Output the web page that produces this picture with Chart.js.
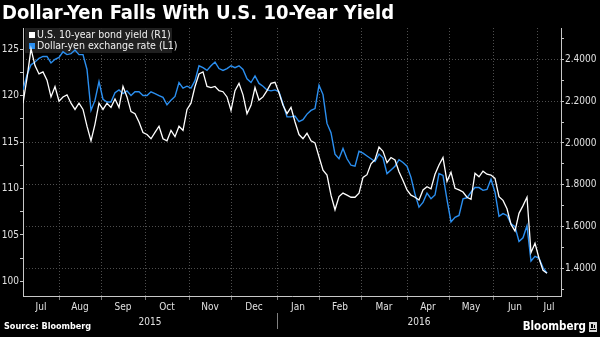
<!DOCTYPE html>
<html>
<head>
<meta charset="utf-8">
<script src="https://cdn.jsdelivr.net/npm/chart.js@4.4.0/dist/chart.umd.min.js"></script>
<style>
  html, body { margin: 0; padding: 0; background: #000; }
  #wrap { position: relative; width: 600px; height: 337px; }
</style>
</head>
<body>
<div id="wrap"><canvas id="chart"></canvas></div>
<script>
const FONT = "'DejaVu Sans Condensed', 'DejaVu Sans', sans-serif";
const GRID = '#4e4e4e';
const AXIS = '#c8c8c8';
const BLUE = '#2b8ff0';

// Trading-day series, one value every other trading day from 8 Jul 2015
const firstTradingDay = [2015, 6, 8];
const pointStep = 2;
const axisDays = 269;

// USD/JPY (left axis)
const yenRate = [
  120.6, 122.2, 123.3, 123.6, 124.0, 124.2, 124.2, 123.5, 123.9, 124.1,
  124.7, 124.4, 124.5, 124.9, 124.4, 124.4, 122.8, 118.4, 119.5, 121.5,
  119.6, 119.3, 119.3, 120.3, 120.6, 120.2, 120.5, 120.0, 120.4, 120.4,
  120.0, 120.0, 120.4, 120.2, 120.0, 119.8, 119.0, 119.5, 119.9, 121.4,
  120.8, 121.0, 120.8, 121.6, 123.2, 123.0, 122.7, 123.2, 123.6, 122.9,
  122.7, 122.9, 123.2, 123.0, 123.2, 122.8, 121.8, 121.4, 122.1, 121.3,
  121.0, 120.6, 120.5, 120.6, 120.4, 119.1, 117.7, 117.7, 117.8, 117.2,
  117.4, 118.0, 118.4, 118.6, 121.1, 120.1, 117.0, 116.0, 113.7, 113.2,
  114.3, 113.2, 112.5, 112.4, 114.0, 113.8, 113.5, 113.2, 112.9, 113.7,
  113.3, 111.6, 112.0, 112.4, 113.1, 112.8, 112.4, 111.2, 109.4, 108.0,
  108.5, 109.5, 108.9, 109.3, 111.6, 111.4, 108.8, 106.4, 106.9, 107.1,
  108.9, 109.0, 109.6, 110.1, 110.1, 109.8, 109.9, 111.0, 109.6, 107.0,
  107.3, 107.1, 106.2, 105.9, 104.3, 104.7, 106.0, 102.2, 102.7, 102.5,
  101.5, 100.9
];

// US 10-year Treasury yield, % (right axis)
const bondYield = [
  2.19, 2.31, 2.45, 2.37, 2.33, 2.34, 2.30, 2.22, 2.27, 2.20,
  2.22, 2.23, 2.19, 2.16, 2.19, 2.16, 2.08, 2.01, 2.09, 2.19,
  2.16, 2.19, 2.17, 2.21, 2.17, 2.27, 2.22, 2.15, 2.14, 2.10,
  2.05, 2.04, 2.02, 2.05, 2.08, 2.02, 2.01, 2.06, 2.03, 2.08,
  2.06, 2.16, 2.19, 2.27, 2.33, 2.34, 2.27, 2.265, 2.27, 2.25,
  2.245, 2.22, 2.155, 2.25, 2.285, 2.23, 2.14, 2.18, 2.265, 2.205,
  2.22, 2.25, 2.285, 2.29, 2.24, 2.18, 2.14, 2.17, 2.10, 2.04,
  2.02, 2.046, 2.01, 2.00, 1.934, 1.87, 1.846, 1.75, 1.68, 1.743,
  1.76, 1.75, 1.74, 1.74, 1.759, 1.835, 1.848, 1.90, 1.92, 1.98,
  1.96, 1.905, 1.93, 1.918, 1.862, 1.82, 1.775, 1.75, 1.74, 1.727,
  1.775, 1.79, 1.78, 1.85, 1.894, 1.93, 1.816, 1.86, 1.783, 1.775,
  1.765, 1.74, 1.73, 1.855, 1.838, 1.865, 1.85, 1.846, 1.83, 1.743,
  1.725, 1.685, 1.61, 1.578, 1.663, 1.70, 1.74, 1.475, 1.52, 1.448,
  1.39, 1.376
];

const yenTicks = [100, 102.5, 105, 107.5, 110, 112.5, 115, 117.5, 120, 122.5, 125];
const yieldTicks = [1.3, 1.4, 1.5, 1.6, 1.7, 1.8, 1.9, 2.0, 2.1, 2.2, 2.3, 2.4, 2.5];
const monthNames = ['Jan', 'Feb', 'Mar', 'Apr', 'May', 'Jun', 'Jul', 'Aug', 'Sep', 'Oct', 'Nov', 'Dec'];

// weekday calendar used as the x scale (index = trading day)
function tradingCalendar(n) {
  const out = [];
  const d = new Date(Date.UTC(...firstTradingDay));
  while (out.length <= n) {
    const wd = d.getUTCDay();
    if (wd !== 0 && wd !== 6) out.push({ m: d.getUTCMonth(), y: d.getUTCFullYear() });
    d.setUTCDate(d.getUTCDate() + 1);
  }
  return out;
}
const cal = tradingCalendar(axisDays);
const monthStarts = [];
cal.forEach((c, i) => { if (i > 0 && c.m !== cal[i - 1].m) monthStarts.push(i); });

const edges = [0, ...monthStarts, axisDays];
const monthMids = new Map();
const years = [];
for (let i = 0; i < edges.length - 1; i++) {
  const c = cal[edges[i]];
  monthMids.set((edges[i] + edges[i + 1]) / 2, monthNames[c.m]);
  const last = years[years.length - 1];
  if (!last || last.y !== c.y) years.push({ y: c.y, from: edges[i], to: edges[i + 1] });
  else last.to = edges[i + 1];
}

const toPoints = arr => arr.map((v, i) => ({ x: i * pointStep, y: v }));

const decor = {
  id: 'decor',
  beforeDatasetsDraw(chart) {
    const { ctx, chartArea } = chart;
    // legend box
    ctx.save();
    ctx.fillStyle = 'rgba(34,34,34,0.92)';
    ctx.fillRect(chartArea.left + 2, chartArea.top, 147, 25);
    ctx.font = `10.5px ${FONT}`;
    ctx.textBaseline = 'middle';
    chart.data.datasets.forEach((ds, i) => {
      const y = chartArea.top + 7 + i * 11;
      ctx.fillStyle = ds.borderColor;
      ctx.fillRect(chartArea.left + 6, y - 3, 6, 6);
      ctx.fillStyle = '#f0f0f0';
      ctx.fillText(ds.label, chartArea.left + 14, y);
    });
    ctx.restore();
  },
  afterDraw(chart) {
    const { ctx, chartArea } = chart;
    const x = chart.scales.x;
    ctx.save();
    ctx.fillStyle = '#fff';
    ctx.font = `bold 20px ${FONT}`;
    ctx.textBaseline = 'alphabetic';
    ctx.fillText('Dollar-Yen Falls With U.S. 10-Year Yield', 2, 19);

    // year row under the month labels
    ctx.font = `10px ${FONT}`;
    ctx.fillStyle = '#e0e0e0';
    ctx.textAlign = 'center';
    ctx.textBaseline = 'middle';
    years.forEach(yr => {
      ctx.fillText(String(yr.y), (x.getPixelForValue(yr.from) + x.getPixelForValue(yr.to)) / 2, 322);
      if (yr.from > 0) {
        const px = Math.round(x.getPixelForValue(yr.from)) + 0.5;
        ctx.strokeStyle = '#808080';
        ctx.lineWidth = 1;
        ctx.beginPath();
        ctx.moveTo(px, chartArea.bottom + 17);
        ctx.lineTo(px, chartArea.bottom + 33);
        ctx.stroke();
      }
    });

    ctx.textAlign = 'left';
    ctx.font = `bold 9px ${FONT}`;
    ctx.fillStyle = '#fff';
    ctx.fillText('Source: Bloomberg', 4, 327);

    ctx.textAlign = 'right';
    ctx.font = `bold 11.5px ${FONT}`;
    ctx.fillText('Bloomberg', 586, 327);
    ctx.fillStyle = '#d8d8d8';
    ctx.fillRect(589, 322, 8, 10);
    ctx.fillStyle = '#000';
    ctx.fillRect(591, 324, 2, 4);
    ctx.fillRect(594, 325, 1, 3);
    ctx.fillRect(590, 329, 6, 1);
    ctx.restore();
  }
};

new Chart(document.getElementById('chart'), {
  type: 'line',
  data: {
    datasets: [
      {
        label: 'U.S. 10-year bond yield (R1)',
        data: toPoints(bondYield),
        yAxisID: 'yld',
        borderColor: '#ffffff',
        borderWidth: 1.3,
        pointRadius: 0,
        tension: 0
      },
      {
        label: 'Dollar-yen exchange rate (L1)',
        data: toPoints(yenRate),
        yAxisID: 'yen',
        borderColor: BLUE,
        borderWidth: 1.4,
        pointRadius: 0,
        tension: 0
      }
    ]
  },
  options: {
    responsive: true,
    maintainAspectRatio: false,
    animation: false,
    layout: { padding: { top: 28, left: 0, right: 0, bottom: 0 } },
    plugins: {
      legend: { display: false },
      tooltip: { enabled: false }
    },
    scales: {
      x: {
        type: 'linear',
        min: 0,
        max: axisDays,
        afterBuildTicks(scale) {
          scale.ticks = [...monthStarts, ...monthMids.keys()]
            .sort((a, b) => a - b)
            .map(v => ({ value: v }));
        },
        afterFit(scale) { scale.height = 41; },
        ticks: {
          autoSkip: false,
          maxRotation: 0,
          padding: 1,
          color: '#e0e0e0',
          font: { family: FONT, size: 10 },
          callback: v => monthMids.get(v) || ''
        },
        grid: {
          color: c => (c.tick && monthStarts.includes(c.tick.value)) ? GRID : 'transparent',
          tickColor: c => (c.tick && monthStarts.includes(c.tick.value)) ? '#777' : 'transparent',
          tickLength: 4,
          lineWidth: 1
        },
        border: { display: true, color: AXIS, width: 1, dash: [1, 2] }
      },
      yen: {
        position: 'left',
        min: 98.44,
        max: 127.26,
        afterBuildTicks(scale) { scale.ticks = yenTicks.map(v => ({ value: v })); },
        afterFit(scale) { scale.width = 23; },
        ticks: {
          autoSkip: false,
          padding: 1,
          color: '#e0e0e0',
          font: { family: FONT, size: 10 },
          callback: v => (v % 5 === 0 ? String(v) : '')
        },
        grid: { drawOnChartArea: false, tickColor: AXIS, tickLength: 3 },
        border: { display: true, color: AXIS, width: 1 }
      },
      yld: {
        position: 'right',
        min: 1.2675,
        max: 2.5498,
        afterBuildTicks(scale) { scale.ticks = yieldTicks.map(v => ({ value: v })); },
        afterFit(scale) { scale.width = 39; },
        ticks: {
          autoSkip: false,
          padding: 1,
          color: '#e0e0e0',
          font: { family: FONT, size: 10 },
          callback: v => (Math.round(v * 10) % 2 === 0 ? v.toFixed(4) : '')
        },
        grid: {
          color: c => (c.tick && Math.round(c.tick.value * 10) % 2 === 0) ? GRID : 'transparent',
          tickColor: AXIS,
          tickLength: 3
        },
        border: { display: true, color: AXIS, width: 1, dash: [1, 2] }
      }
    }
  },
  plugins: [decor]
});
</script>
</body>
</html>
